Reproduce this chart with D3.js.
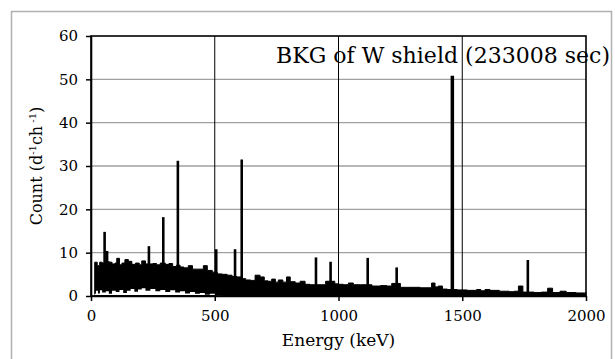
<!DOCTYPE html>
<html>
<head>
<meta charset="utf-8">
<script src="https://cdn.jsdelivr.net/npm/d3@7"></script>
<style>
  body { margin: 0; background: #fff; }
  svg text { font-family: "DejaVu Serif", "Liberation Serif", serif; fill: #000; }
</style>
</head>
<body>
<div id="chart"></div>
<script>
// continuum top edge of the spectrum (keV, counts per day per channel)
const contEnergy = [14, 15, 25, 35, 45, 55, 75, 85, 97, 104, 115, 125, 137, 151, 165, 180, 195, 205, 220, 250, 265, 280, 300, 315, 330, 345, 360, 375, 393, 410, 430, 454, 470, 490, 510, 530, 550, 570, 590, 610, 625, 645, 663, 683, 700, 715, 730, 745, 757, 775, 790, 805, 825, 845, 865, 885, 930, 948, 985, 1000, 1020, 1040, 1060, 1090, 1135, 1170, 1195, 1215, 1250, 1290, 1330, 1376, 1390, 1403, 1420, 1440, 1480, 1520, 1558, 1575, 1592, 1612, 1650, 1690, 1710, 1727, 1745, 1790, 1820, 1845, 1865, 1895, 1920, 1960, 2000];
const contCount = [0, 7.8, 7.0, 7.8, 7.6, 7.9, 7.8, 7.4, 7.6, 8.7, 7.2, 7.6, 8.4, 8.0, 7.3, 7.6, 7.2, 8.1, 7.4, 7.5, 7.2, 7.6, 7.3, 7.5, 6.8, 7.1, 6.7, 6.5, 7.0, 6.2, 6.2, 7.0, 5.9, 5.5, 5.1, 5.0, 4.8, 4.5, 4.4, 4.0, 3.7, 3.6, 4.8, 4.4, 3.5, 3.4, 3.9, 3.2, 3.7, 3.2, 4.4, 3.3, 3.0, 3.4, 2.7, 2.6, 2.6, 3.4, 2.8, 2.7, 2.6, 3.0, 2.6, 2.6, 2.3, 2.4, 2.3, 2.9, 2.0, 2.0, 1.9, 3.0, 2.1, 2.3, 1.6, 1.5, 1.4, 1.3, 1.5, 1.2, 1.5, 1.3, 1.1, 1.0, 1.1, 2.3, 0.9, 0.8, 0.9, 1.8, 0.8, 1.1, 0.8, 0.7, 0.8];

// lowest counts below the band (ragged white gap above the axis at low energy)
const floorEnergy = [14, 20, 28, 36, 45, 60, 72, 85, 100, 115, 130, 145, 160, 175, 190, 205, 220, 240, 260, 280, 300, 320, 340, 360, 380, 400, 420, 440, 460, 480, 500, 530];
const floorCount = [0.5, 1.2, 0.6, 1.3, 0.8, 1.1, 0.5, 1.2, 0.9, 1.4, 0.7, 1.2, 1.6, 1.0, 1.5, 1.8, 1.2, 1.6, 1.1, 1.4, 0.9, 1.3, 0.8, 1.1, 0.6, 0.9, 0.5, 0.7, 0.3, 0.5, 0.2, 0];

// gamma lines sticking out of the continuum
const peakEnergy = [55, 65, 234, 292, 351, 506, 582, 609, 909, 968, 1118, 1235, 1460, 1765];
const peakCount = [14.8, 10.4, 11.5, 18.2, 31.2, 10.8, 10.8, 31.5, 8.9, 7.9, 8.8, 6.6, 50.8, 8.3];

const xTicks = [0, 500, 1000, 1500, 2000];
const yTicks = [0, 10, 20, 30, 40, 50, 60];

const W = 615, H = 359;
const margin = { top: 36, right: 29, bottom: 63, left: 91 };
const width = W - margin.left - margin.right;
const height = H - margin.top - margin.bottom;

const svg = d3.select('#chart').append('svg')
  .attr('width', W)
  .attr('height', H);

// gray outer frame
svg.append('rect')
  .attr('x', 11.5).attr('y', 11.5)
  .attr('width', 600).attr('height', 360)
  .attr('fill', 'none')
  .attr('stroke', '#b0b0b0')
  .attr('stroke-width', 1.5);

const g = svg.append('g').attr('transform', `translate(${margin.left},${margin.top})`);

const x = d3.scaleLinear().domain([0, 2000]).range([0, width]);
const y = d3.scaleLinear().domain([0, 60]).range([height, 0]);

// horizontal gray gridlines
g.append('g')
  .selectAll('line')
  .data(yTicks.filter(v => v > 0 && v < 60))
  .join('line')
  .attr('x1', 0).attr('x2', width)
  .attr('y1', d => y(d)).attr('y2', d => y(d))
  .attr('stroke', '#a0a0a0')
  .attr('stroke-width', 1.3);

// vertical black gridlines
g.append('g')
  .selectAll('line')
  .data(xTicks.filter(v => v > 0 && v < 2000))
  .join('line')
  .attr('x1', d => x(d)).attr('x2', d => x(d))
  .attr('y1', 0).attr('y2', height)
  .attr('stroke', '#000')
  .attr('stroke-width', 1);

// continuum band
const cont = contEnergy.map((e, i) => ({ e, c: contCount[i] }));
g.append('path')
  .datum(cont)
  .attr('fill', '#000')
  .attr('stroke', '#000')
  .attr('stroke-width', 1)
  .attr('d', d3.area()
    .x(d => x(d.e))
    .y0(y(0))
    .y1(d => y(d.c))
    .curve(d3.curveStepAfter));

// peaks
g.append('g')
  .selectAll('line')
  .data(peakEnergy.map((e, i) => ({ e, c: peakCount[i] })))
  .join('line')
  .attr('x1', d => x(d.e)).attr('x2', d => x(d.e))
  .attr('y1', y(0)).attr('y2', d => y(d.c))
  .attr('stroke', '#000')
  .attr('stroke-width', d => d.c > 40 ? 3.5 : 2.6);

// white gap under the band at low energy
const floor = floorEnergy.map((e, i) => ({ e, c: floorCount[i] }));
g.append('path')
  .datum(floor)
  .attr('fill', '#fff')
  .attr('d', d3.area()
    .x(d => x(d.e))
    .y0(y(0) - 1)
    .y1(d => y(d.c))
    .curve(d3.curveStepAfter));

// plot border
g.append('rect')
  .attr('width', width).attr('height', height)
  .attr('fill', 'none')
  .attr('stroke', '#000')
  .attr('stroke-width', 1.6);

// axes
const xAxis = g.append('g')
  .attr('transform', `translate(0,${height})`)
  .call(d3.axisBottom(x).tickValues(xTicks).tickFormat(d3.format('d')).tickSize(5).tickPadding(9).tickSizeOuter(0));
const yAxis = g.append('g')
  .call(d3.axisLeft(y).tickValues(yTicks).tickFormat(d3.format('d')).tickSize(5).tickPadding(8).tickSizeOuter(0));
[xAxis, yAxis].forEach(a => {
  a.select('.domain').attr('stroke', '#000').attr('stroke-width', 1.6);
  a.selectAll('.tick line').attr('stroke', '#000').attr('stroke-width', 1.5);
  a.selectAll('.tick text')
    .style('font-family', '"DejaVu Serif", serif')
    .style('font-size', '15px');
});

// title inside the plot
svg.append('text')
  .attr('x', 276).attr('y', 63)
  .attr('textLength', 334)
  .attr('lengthAdjust', 'spacingAndGlyphs')
  .style('font-size', '22px')
  .text('BKG of W shield (233008 sec)');

// axis titles
svg.append('text')
  .attr('x', margin.left + width / 2).attr('y', 346)
  .attr('text-anchor', 'middle')
  .style('font-size', '17px')
  .text('Energy (keV)');

const yl = svg.append('text')
  .attr('transform', `translate(42,${margin.top + height / 2}) rotate(-90)`)
  .attr('text-anchor', 'middle')
  .style('font-size', '16px');
yl.append('tspan').text('Count (d');
yl.append('tspan').attr('dy', -6).style('font-size', '10px').text('-1');
yl.append('tspan').attr('dy', 6).text('ch');
yl.append('tspan').attr('dy', -6).style('font-size', '10px').text(' -1');
yl.append('tspan').attr('dy', 6).text(')');
</script>
</body>
</html>
